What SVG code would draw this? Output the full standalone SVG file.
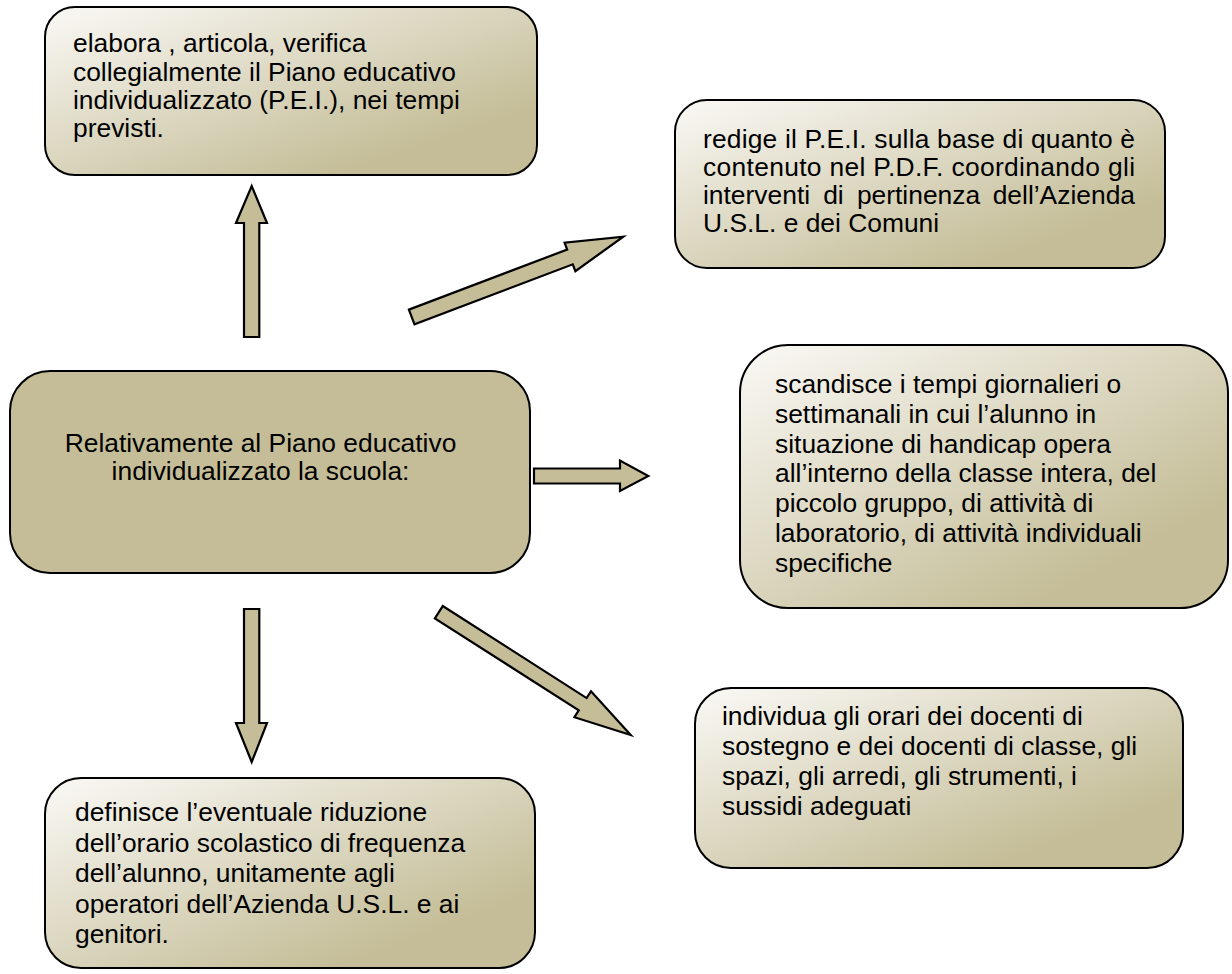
<svg xmlns="http://www.w3.org/2000/svg" width="1232" height="974" viewBox="0 0 1232 974">
<defs>
<linearGradient id="g" x1="0" y1="0" x2="1" y2="1">
<stop offset="0.05" stop-color="#F7F5F0"/>
<stop offset="0.8" stop-color="#C4BD97"/>
</linearGradient>
<style>
.box{fill:url(#g);stroke:#000;stroke-width:2}
.solid{fill:#C4BD97;stroke:#000;stroke-width:2}
.arr{fill:#C4BD97;stroke:#000;stroke-width:2.2;stroke-linejoin:miter}
text{font-family:"Liberation Sans",Arial,sans-serif;font-size:26.4px;fill:#000}
</style>
</defs>
<rect width="1232" height="974" fill="#fff"/>
<g id="connectors">
<polygon class="arr" points="244,337 244,223 236,223 251.7,186 267,223 259.3,223 259.3,337"/>
<polygon class="arr" points="244,609 259.3,609 259.3,723 267,723 251.7,762 236,723 244,723"/>
<polygon class="arr" points="534,468.5 620,468.5 620,460.5 648.3,476 620,491 620,483.5 534,483.5"/>
<polygon class="arr" transform="translate(411.7,317) rotate(-20.78)" points="0,-7.9 169.3,-7.9 169.3,-15.2 226.3,0 169.3,15.2 169.3,7.9 0,7.9"/>
<polygon class="arr" transform="translate(438.8,612.2) rotate(32.6)" points="0,-7.3 170.8,-7.3 170.8,-15.4 227.8,0 170.8,15.4 170.8,7.3 0,7.3"/>
</g>
<g id="center">
<rect class="solid" x="10" y="371" width="520" height="202" rx="40"/>
<text x="260.5" y="451.5" text-anchor="middle">Relativamente al Piano educativo</text>
<text x="260.5" y="480" text-anchor="middle">individualizzato la scuola:</text>
</g>
<g id="n1">
<rect class="box" x="45" y="7" width="492" height="168" rx="30"/>
<text x="73" y="52">elabora , articola, verifica</text>
<text x="73" y="80.5">collegialmente il Piano educativo</text>
<text x="73" y="109">individualizzato (P.E.I.), nei tempi</text>
<text x="73" y="137">previsti.</text>
</g>
<g id="n2">
<rect class="box" x="675" y="100" width="490" height="168" rx="32"/>
<text x="703" y="148.3" textLength="432" lengthAdjust="spacing">redige il P.E.I. sulla base di quanto è</text>
<text x="703" y="176.3" textLength="432" lengthAdjust="spacing">contenuto nel P.D.F. coordinando gli</text>
<text y="204.3"><tspan x="703">interventi</tspan><tspan x="823.2">di</tspan><tspan x="856.9">pertinenza</tspan></text>
<text x="1135" y="204.3" text-anchor="end">dell’Azienda</text>
<text x="703" y="232.3">U.S.L. e dei Comuni</text>
</g>
<g id="n3">
<rect class="box" x="740" y="345" width="488" height="263" rx="48"/>
<text x="775" y="393.3">scandisce i tempi giornalieri o</text>
<text x="775" y="423">settimanali in cui l’alunno in</text>
<text x="775" y="452.7">situazione di handicap opera</text>
<text x="775" y="482.4">all’interno della classe intera, del</text>
<text x="775" y="512.1">piccolo gruppo, di attività di</text>
<text x="775" y="541.8">laboratorio, di attività individuali</text>
<text x="775" y="571.5">specifiche</text>
</g>
<g id="n4">
<rect class="box" x="695" y="688" width="488" height="180" rx="36"/>
<text x="722" y="725">individua gli orari dei docenti di</text>
<text x="722" y="755">sostegno e dei docenti di classe, gli</text>
<text x="722" y="785">spazi, gli arredi, gli strumenti, i</text>
<text x="722" y="815">sussidi adeguati</text>
</g>
<g id="n5">
<rect class="box" x="45" y="778" width="490" height="190" rx="36"/>
<text x="75" y="821">definisce l’eventuale riduzione</text>
<text x="75" y="851.5">dell’orario scolastico di frequenza</text>
<text x="75" y="882">dell’alunno, unitamente agli</text>
<text x="75" y="912.5">operatori dell’Azienda U.S.L. e ai</text>
<text x="75" y="943">genitori.</text>
</g>
</svg>
